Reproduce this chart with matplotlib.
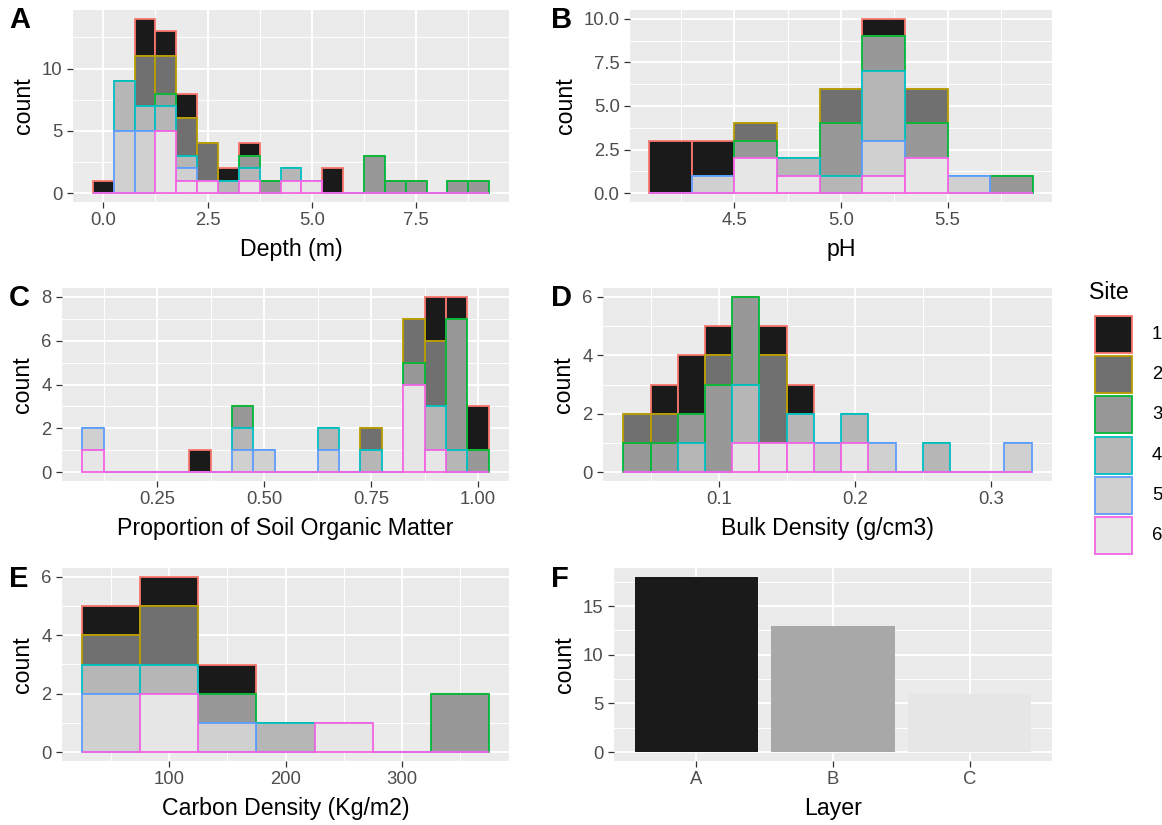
import matplotlib
matplotlib.use("Agg")
import matplotlib.pyplot as plt
from matplotlib.patches import Rectangle
import numpy as np

plt.rcParams['font.family'] = ['Liberation Sans', 'DejaVu Sans']

# ---------------- data ----------------
sites = ["1", "2", "3", "4", "5", "6"]
site_fills = ["#1A1A1A", "#707070", "#989898", "#B6B6B6", "#D0D0D0", "#E6E6E6"]
site_edges = ["#F8766D", "#B79F00", "#00BA38", "#00BFC4", "#619CFF", "#F564E3"]

# Panel A: Depth (m), bin width 0.5
depth_centers = [0.0, 0.5, 1.0, 1.5, 2.0, 2.5, 3.0, 3.5, 4.0, 4.5,
                 5.0, 5.5, 6.0, 6.5, 7.0, 7.5, 8.0, 8.5, 9.0]
depth_counts = [
    [1, 0, 3, 2, 2, 0, 1, 1, 0, 0, 0, 2, 0, 0, 0, 0, 0, 0, 0],  # site 1
    [0, 0, 4, 3, 3, 3, 0, 0, 0, 0, 0, 0, 0, 0, 0, 0, 0, 0, 0],  # site 2
    [0, 0, 0, 1, 0, 0, 0, 1, 1, 0, 0, 0, 0, 3, 1, 1, 0, 1, 1],  # site 3
    [0, 4, 2, 2, 1, 0, 1, 1, 0, 1, 0, 0, 0, 0, 0, 0, 0, 0, 0],  # site 4
    [0, 5, 5, 0, 1, 0, 0, 0, 0, 0, 0, 0, 0, 0, 0, 0, 0, 0, 0],  # site 5
    [0, 0, 0, 5, 1, 1, 0, 1, 0, 1, 1, 0, 0, 0, 0, 0, 0, 0, 0],  # site 6
]
depth_xticks = [0.0, 2.5, 5.0, 7.5]
depth_xlabels = ["0.0", "2.5", "5.0", "7.5"]
depth_yticks = [0, 5, 10]
depth_ylabels = ["0", "5", "10"]

# Panel B: pH, bin width 0.2
ph_centers = [4.2, 4.4, 4.6, 4.8, 5.0, 5.2, 5.4, 5.6, 5.8]
ph_counts = [
    [3, 2, 0, 0, 0, 1, 0, 0, 0],
    [0, 0, 1, 0, 2, 0, 2, 0, 0],
    [0, 0, 1, 0, 3, 2, 2, 0, 1],
    [0, 0, 0, 1, 1, 4, 0, 0, 0],
    [0, 1, 0, 0, 0, 2, 0, 1, 0],
    [0, 0, 2, 1, 0, 1, 2, 0, 0],
]
ph_xticks = [4.5, 5.0, 5.5]
ph_xlabels = ["4.5", "5.0", "5.5"]
ph_yticks = [0, 2.5, 5.0, 7.5, 10.0]
ph_ylabels = ["0.0", "2.5", "5.0", "7.5", "10.0"]

# Panel C: proportion of soil organic matter, bin width 0.05
som_centers = [0.10, 0.15, 0.20, 0.25, 0.30, 0.35, 0.40, 0.45, 0.50, 0.55,
               0.60, 0.65, 0.70, 0.75, 0.80, 0.85, 0.90, 0.95, 1.00]
som_counts = [
    [0, 0, 0, 0, 0, 1, 0, 0, 0, 0, 0, 0, 0, 0, 0, 0, 2, 1, 2],
    [0, 0, 0, 0, 0, 0, 0, 0, 0, 0, 0, 0, 0, 1, 0, 2, 3, 0, 0],
    [0, 0, 0, 0, 0, 0, 0, 1, 0, 0, 0, 0, 0, 0, 0, 1, 0, 6, 1],
    [0, 0, 0, 0, 0, 0, 0, 1, 0, 0, 0, 1, 0, 1, 0, 0, 2, 1, 0],
    [1, 0, 0, 0, 0, 0, 0, 1, 1, 0, 0, 1, 0, 0, 0, 0, 0, 0, 0],
    [1, 0, 0, 0, 0, 0, 0, 0, 0, 0, 0, 0, 0, 0, 0, 4, 1, 0, 0],
]
som_xticks = [0.25, 0.50, 0.75, 1.00]
som_xlabels = ["0.25", "0.50", "0.75", "1.00"]
som_yticks = [0, 2, 4, 6, 8]
som_ylabels = ["0", "2", "4", "6", "8"]

# Panel D: bulk density, bin width 0.02
bd_centers = [0.04, 0.06, 0.08, 0.10, 0.12, 0.14, 0.16, 0.18,
              0.20, 0.22, 0.24, 0.26, 0.28, 0.30, 0.32]
bd_counts = [
    [0, 1, 2, 1, 0, 1, 1, 0, 0, 0, 0, 0, 0, 0, 0],
    [1, 1, 0, 1, 0, 3, 0, 0, 0, 0, 0, 0, 0, 0, 0],
    [1, 1, 1, 3, 3, 0, 0, 0, 0, 0, 0, 0, 0, 0, 0],
    [0, 0, 1, 0, 2, 0, 1, 0, 1, 0, 0, 1, 0, 0, 0],
    [0, 0, 0, 0, 0, 0, 0, 1, 0, 1, 0, 0, 0, 0, 1],
    [0, 0, 0, 0, 1, 1, 1, 0, 1, 0, 0, 0, 0, 0, 0],
]
bd_xticks = [0.1, 0.2, 0.3]
bd_xlabels = ["0.1", "0.2", "0.3"]
bd_yticks = [0, 2, 4, 6]
bd_ylabels = ["0", "2", "4", "6"]

# Panel E: carbon density, bin width 50
cd_centers = [50, 100, 150, 200, 250, 300, 350]
cd_counts = [
    [1, 1, 1, 0, 0, 0, 0],
    [1, 2, 0, 0, 0, 0, 0],
    [0, 0, 1, 0, 0, 0, 2],
    [1, 1, 0, 1, 0, 0, 0],
    [2, 0, 1, 0, 0, 0, 0],
    [0, 2, 0, 0, 1, 0, 0],
]
cd_xticks = [100, 200, 300]
cd_xlabels = ["100", "200", "300"]
cd_yticks = [0, 2, 4, 6]
cd_ylabels = ["0", "2", "4", "6"]

# Panel F: layer counts
layers = ["A", "B", "C"]
layer_counts = [18, 13, 6]
layer_fills = ["#1A1A1A", "#A8A8A8", "#E6E6E6"]
layer_yticks = [0, 5, 10, 15]
layer_ylabels = ["0", "5", "10", "15"]

# ---------------- figure ----------------
W, H = 1162, 825
fig = plt.figure(figsize=(W / 100, H / 100), dpi=100)

TICK_FS = 13.3
TITLE_FS = 16.7
TAG_FS = 21


def add_ax(x0, y0, x1, y1):
    return fig.add_axes([x0 / W, 1 - y1 / H, (x1 - x0) / W, (y1 - y0) / H])


def expand(lo, hi, mult=0.05):
    r = hi - lo
    return lo - r * mult, hi + r * mult


def minors(ticks, lo, hi):
    t = list(ticks)
    step = t[1] - t[0]
    ext = [t[0] - step] + t + [t[-1] + step]
    m = [(a + b) / 2 for a, b in zip(ext[:-1], ext[1:])]
    return [v for v in m if lo <= v <= hi]


def style(ax, xlim, ylim, xt, xl, yt, yl, xminor=True):
    ax.set_facecolor('#EBEBEB')
    for s in ax.spines.values():
        s.set_visible(False)
    ax.set_xlim(*xlim)
    ax.set_ylim(*ylim)
    ax.set_xticks(xt)
    ax.set_xticklabels(xl)
    ax.set_yticks(yt)
    ax.set_yticklabels(yl)
    if xminor:
        ax.set_xticks(minors(xt, *xlim), minor=True)
    ax.set_yticks(minors(yt, *ylim), minor=True)
    ax.grid(which='major', color='white', linewidth=1.4)
    ax.grid(which='minor', color='white', linewidth=0.7)
    if not xminor:
        ax.grid(which='minor', axis='x', visible=False)
    ax.set_axisbelow(True)
    ax.tick_params(which='major', length=4.5, width=0.9, color='#333333',
                   labelsize=TICK_FS, labelcolor='#4D4D4D', pad=3)
    ax.tick_params(which='minor', length=0)


def stacked_hist(ax, centers, counts, width):
    centers = np.asarray(centers, dtype=float)
    counts = np.asarray(counts, dtype=float)
    lo = centers.min() - width / 2
    hi = centers.max() + width / 2
    for i in range(len(counts)):
        bottom = counts[i + 1:].sum(axis=0)
        ax.bar(centers, counts[i], width=width, bottom=bottom,
               color=site_fills[i], edgecolor=site_edges[i],
               linewidth=1.3, zorder=2 + i)
    ymax = counts.sum(axis=0).max()
    return expand(lo, hi), expand(0, ymax)


def hist_panel(box, centers, counts, width, xt, xl, yt, yl, xlabel):
    ax = add_ax(*box)
    xlim, ylim = stacked_hist(ax, centers, counts, width)
    style(ax, xlim, ylim, xt, xl, yt, yl)
    ax.set_xlabel(xlabel, fontsize=TITLE_FS, labelpad=6)
    ax.set_ylabel("count", fontsize=TITLE_FS, labelpad=5)
    return ax


hist_panel((73, 10, 509, 202), depth_centers, depth_counts, 0.5,
           depth_xticks, depth_xlabels, depth_yticks, depth_ylabels, "Depth (m)")
hist_panel((630, 10, 1052, 202), ph_centers, ph_counts, 0.2,
           ph_xticks, ph_xlabels, ph_yticks, ph_ylabels, "pH")
hist_panel((62, 288, 509, 481), som_centers, som_counts, 0.05,
           som_xticks, som_xlabels, som_yticks, som_ylabels,
           "Proportion of Soil Organic Matter")
hist_panel((603, 288, 1052, 481), bd_centers, bd_counts, 0.02,
           bd_xticks, bd_xlabels, bd_yticks, bd_ylabels, "Bulk Density (g/cm3)")
hist_panel((62, 568, 509, 761), cd_centers, cd_counts, 50,
           cd_xticks, cd_xlabels, cd_yticks, cd_ylabels, "Carbon Density (Kg/m2)")

# Panel F
axf = add_ax(614, 568, 1052, 761)
xpos = np.arange(1, len(layers) + 1)
axf.bar(xpos, layer_counts, width=0.9, color=layer_fills, zorder=2)
style(axf, (0.4, len(layers) + 0.6), expand(0, max(layer_counts)),
      list(xpos), layers, layer_yticks, layer_ylabels, xminor=False)
axf.set_xlabel("Layer", fontsize=TITLE_FS, labelpad=6)
axf.set_ylabel("count", fontsize=TITLE_FS, labelpad=5)

# Panel tags
for tag, (tx, ty) in zip("ABCDEF", [(9, 6), (551, 6), (9, 284), (551, 284),
                                     (9, 565), (551, 565)]):
    fig.text(tx / W, 1 - ty / H, tag, fontsize=TAG_FS, fontweight='bold',
             ha='left', va='top')

# Legend (manual, ggplot style)
axl = fig.add_axes([1075 / W, 1 - 570 / H, 87 / W, 300 / H])
axl.set_xlim(1075, 1162)
axl.set_ylim(570, 270)
axl.axis('off')
axl.text(1089, 299, "Site", fontsize=TITLE_FS, ha='left', va='baseline')
key_top, key_pitch, key_size = 316, 40.2, 37
for i, s in enumerate(sites):
    y = key_top + i * key_pitch
    axl.add_patch(Rectangle((1095, y), key_size, key_size,
                            facecolor=site_fills[i], edgecolor=site_edges[i],
                            linewidth=1.3))
    axl.text(1152, y + key_size / 2, s, fontsize=TICK_FS, ha='left',
             va='center', color='black')

fig.savefig("out.png", dpi=100)
